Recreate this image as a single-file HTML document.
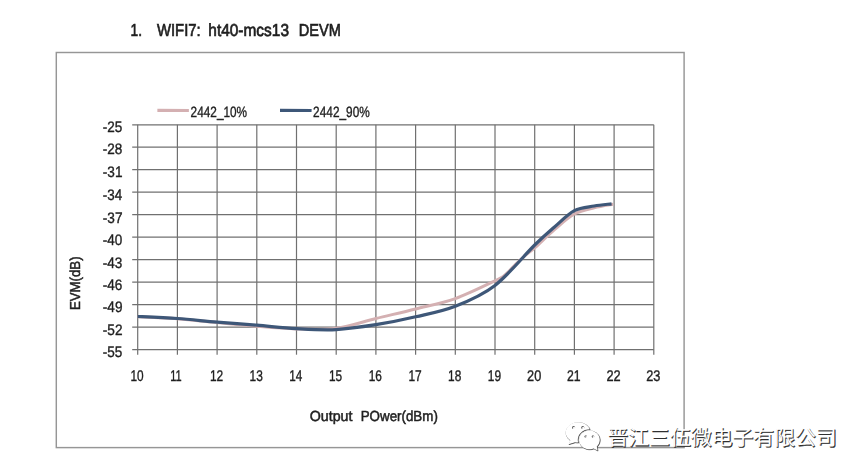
<!DOCTYPE html>
<html>
<head>
<meta charset="utf-8">
<title>WIFI7 ht40-mcs13 DEVM</title>
<style>
html,body{margin:0;padding:0;background:#fff;}
body{width:865px;height:475px;overflow:hidden;font-family:"Liberation Sans",sans-serif;}
svg{display:block;}
text{font-family:"Liberation Sans",sans-serif;font-size:20px;fill:#1f1f1f;stroke:#1f1f1f;stroke-width:0.5px;text-rendering:geometricPrecision;}
.t{stroke-width:0.8px;}
.m{stroke-width:0.7px;}
.g line{stroke:#707070;stroke-width:1.2;}
</style>
</head>
<body>
<svg width="865" height="475" viewBox="0 0 865 475">
<rect x="0" y="0" width="865" height="475" fill="#ffffff"/>
<!-- frame -->
<rect x="56.3" y="52.5" width="627.8" height="395.1" fill="none" stroke="#969696" stroke-width="1.45"/>
<!-- grid -->
<g class="g">
<line x1="137.7" y1="124.8" x2="137.7" y2="354.7"/>
<line x1="177.4" y1="124.8" x2="177.4" y2="354.7"/>
<line x1="217.1" y1="124.8" x2="217.1" y2="354.7"/>
<line x1="256.8" y1="124.8" x2="256.8" y2="354.7"/>
<line x1="296.5" y1="124.8" x2="296.5" y2="354.7"/>
<line x1="336.2" y1="124.8" x2="336.2" y2="354.7"/>
<line x1="375.9" y1="124.8" x2="375.9" y2="354.7"/>
<line x1="415.6" y1="124.8" x2="415.6" y2="354.7"/>
<line x1="455.3" y1="124.8" x2="455.3" y2="354.7"/>
<line x1="495.0" y1="124.8" x2="495.0" y2="354.7"/>
<line x1="534.7" y1="124.8" x2="534.7" y2="354.7"/>
<line x1="574.4" y1="124.8" x2="574.4" y2="354.7"/>
<line x1="614.1" y1="124.8" x2="614.1" y2="354.7"/>
<line x1="653.8" y1="124.8" x2="653.8" y2="354.7"/>
<line x1="132.2" y1="124.8" x2="653.8" y2="124.8"/>
<line x1="132.2" y1="147.2" x2="653.8" y2="147.2"/>
<line x1="132.2" y1="169.7" x2="653.8" y2="169.7"/>
<line x1="132.2" y1="192.2" x2="653.8" y2="192.2"/>
<line x1="132.2" y1="214.7" x2="653.8" y2="214.7"/>
<line x1="132.2" y1="237.2" x2="653.8" y2="237.2"/>
<line x1="132.2" y1="259.7" x2="653.8" y2="259.7"/>
<line x1="132.2" y1="282.2" x2="653.8" y2="282.2"/>
<line x1="132.2" y1="304.7" x2="653.8" y2="304.7"/>
<line x1="132.2" y1="327.2" x2="653.8" y2="327.2"/>
<line x1="132.2" y1="349.7" x2="653.8" y2="349.7"/>
</g>
<!-- legend -->
<line x1="157.4" y1="110.4" x2="188.9" y2="110.5" stroke="#d4b0b2" stroke-width="3.2"/>
<line x1="280.0" y1="110.4" x2="311.6" y2="110.5" stroke="#3e5778" stroke-width="3.2"/>
<!-- curves -->
<path d="M137.7 316.7 C144.3 317.0 164.2 317.7 177.4 318.7 C190.6 319.7 203.9 321.3 217.1 322.6 C230.3 323.9 243.6 325.2 256.8 326.3 C270.0 327.4 283.3 328.6 296.5 328.9 C309.7 329.2 323.0 330.0 336.2 328.3 C349.4 326.6 362.7 321.7 375.9 318.5 C389.1 315.3 402.4 312.3 415.6 309.0 C428.8 305.7 442.1 303.3 455.3 298.6 C468.5 293.9 486.7 284.7 495.0 280.8 C503.3 276.9 501.7 277.6 505.0 275.0 C508.3 272.4 511.7 268.2 515.0 265.0 C518.3 261.8 521.7 258.5 525.0 255.6 C528.3 252.7 529.8 252.1 534.7 247.8 C539.6 243.5 547.9 235.2 554.5 229.6 C561.1 224.0 567.8 217.6 574.4 214.0 C581.0 210.4 587.7 209.4 594.2 207.8 C600.7 206.2 610.0 204.8 613.2 204.2" fill="none" stroke="#d4b0b2" stroke-width="3" stroke-linejoin="round"/>
<path d="M137.7 316.5 C144.3 316.8 164.2 317.6 177.4 318.5 C190.6 319.4 203.9 321.1 217.1 322.2 C230.3 323.3 243.6 324.1 256.8 325.2 C270.0 326.3 283.3 328.0 296.5 328.7 C309.7 329.4 323.0 330.3 336.2 329.6 C349.4 328.9 362.7 326.8 375.9 324.7 C389.1 322.6 402.4 319.9 415.6 316.8 C428.8 313.7 442.1 311.4 455.3 306.2 C468.5 301.0 481.8 295.6 495.0 285.4 C508.2 275.2 524.8 254.7 534.7 245.0 C544.6 235.3 547.9 232.7 554.5 227.0 C561.1 221.3 567.8 214.2 574.4 210.7 C581.0 207.2 588.0 207.2 594.2 206.0 C600.4 204.8 608.7 204.2 611.6 203.8" fill="none" stroke="#3e5778" stroke-width="3.2" stroke-linejoin="round"/>
<!-- all text -->
<g class="a" opacity="0.999">
<text transform="translate(130.55 35.50) scale(0.6902 0.8659)" class="t">1.</text>
<text transform="translate(156.93 35.50) scale(0.7442 0.8659)" class="t">WIFI7:</text>
<text transform="translate(208.33 35.50) scale(0.7718 0.8659)" class="t">ht40-mcs13</text>
<text transform="translate(298.80 35.50) scale(0.7284 0.8659)" class="t">DEVM</text>
<text transform="translate(190.61 117.30) scale(0.5909 0.7472)">2442_10%</text>
<text transform="translate(313.10 117.30) scale(0.5930 0.7472)">2442_90%</text>
<text transform="translate(102.80 131.55) scale(0.6770 0.7612)">-25</text>
<text transform="translate(102.80 154.25) scale(0.6778 0.7612)">-28</text>
<text transform="translate(102.80 177.34) scale(0.6804 0.7612)">-31</text>
<text transform="translate(102.80 200.34) scale(0.6708 0.7612)">-34</text>
<text transform="translate(102.79 222.73) scale(0.6812 0.7612)">-37</text>
<text transform="translate(102.80 244.82) scale(0.6756 0.7612)">-40</text>
<text transform="translate(102.80 267.62) scale(0.6780 0.7612)">-43</text>
<text transform="translate(102.80 289.52) scale(0.6780 0.7612)">-46</text>
<text transform="translate(102.80 312.21) scale(0.6797 0.7612)">-49</text>
<text transform="translate(102.79 334.75) scale(0.6812 0.7612)">-52</text>
<text transform="translate(102.80 357.25) scale(0.6770 0.7612)">-55</text>
<text transform="translate(130.50 380.60) scale(0.5917 0.7751)">10</text>
<text transform="translate(170.16 380.60) scale(0.5520 0.7751)">11</text>
<text transform="translate(209.89 380.60) scale(0.5985 0.7751)">12</text>
<text transform="translate(249.59 380.60) scale(0.5946 0.7751)">13</text>
<text transform="translate(289.31 380.60) scale(0.5860 0.7751)">14</text>
<text transform="translate(329.00 380.60) scale(0.5935 0.7751)">15</text>
<text transform="translate(368.69 380.60) scale(0.5946 0.7751)">16</text>
<text transform="translate(408.39 380.60) scale(0.5985 0.7751)">17</text>
<text transform="translate(448.09 380.60) scale(0.5944 0.7751)">18</text>
<text transform="translate(487.79 380.60) scale(0.5967 0.7751)">19</text>
<text transform="translate(527.06 380.60) scale(0.6354 0.7751)">20</text>
<text transform="translate(566.88 380.60) scale(0.6119 0.7751)">21</text>
<text transform="translate(606.45 380.60) scale(0.6425 0.7751)">22</text>
<text transform="translate(646.16 380.60) scale(0.6385 0.7751)">23</text>
<text transform="translate(309.73 421.30) scale(0.7108 0.7263)" class="m">Output</text>
<text transform="translate(360.71 421.30) scale(0.6673 0.7263)" class="m">POwer(dBm)</text>
<text transform="translate(79.80 309.00) rotate(-90) translate(-1.09 0) scale(0.6620 0.7193)" class="m">EVM(dB)</text>
</g>
<!-- watermark -->
<g>
<title>晋江三伍微电子有限公司</title>
<g transform="translate(0.45 0.45)" fill="#3a3a3a" stroke="#3a3a3a" stroke-width="0.55" stroke-linejoin="round" fill-rule="evenodd">
<path d="M587.8 426.2 L586.7 425.2 L585.5 424.3 L584.1 423.6 L582.7 423.0 L581.2 422.5 L579.6 422.3 L578.0 422.2 L576.4 422.3 L574.8 422.5 L573.3 423.0 L571.8 423.6 L570.5 424.3 L569.3 425.2 L568.2 426.2 L567.3 427.3 L566.6 428.5 L566.1 429.8 L565.8 431.1 L565.7 432.4 L565.8 433.7 L566.1 435.0 L566.6 436.3 L567.3 437.5 L568.2 438.6 L569.3 439.6 L570.3 440.3 L568.6 444.2 L575.1 442.3 L576.4 442.5 L578.0 442.6 L578.2 442.6 L577.9 441.3 L577.8 439.9 L577.9 438.5 L578.2 437.2 L578.7 435.8 L579.4 434.6 L580.2 433.4 L581.2 432.4 L582.3 431.5 L583.6 430.7 L585.0 430.1 L586.4 429.7 L587.9 429.4 L589.4 429.3 L589.7 429.3 L589.4 428.5 L588.7 427.3Z M574.7 428.7 L574.2 429.0 L573.6 429.1 L573.0 429.0 L572.5 428.7 L572.2 428.2 L572.1 427.6 L572.2 427.0 L572.5 426.5 L573.0 426.2 L573.6 426.1 L574.2 426.2 L574.7 426.5 L575.0 427.0 L575.1 427.6 L575.0 428.2Z M584.2 428.2 L583.9 428.7 L583.4 429.0 L582.8 429.1 L582.2 429.0 L581.7 428.7 L581.4 428.2 L581.3 427.6 L581.4 427.0 L581.7 426.5 L582.2 426.2 L582.8 426.1 L583.4 426.2 L583.9 426.5 L584.2 427.0 L584.3 427.6Z"/>
<path d="M599.0 436.3 L598.4 435.2 L597.7 434.2 L596.8 433.3 L595.7 432.4 L594.6 431.8 L593.4 431.2 L592.1 430.8 L590.8 430.6 L589.4 430.5 L588.0 430.6 L586.7 430.8 L585.4 431.2 L584.2 431.8 L583.1 432.4 L582.0 433.3 L581.1 434.2 L580.4 435.2 L579.8 436.3 L579.4 437.5 L579.1 438.7 L579.0 439.9 L579.1 441.1 L579.4 442.3 L579.8 443.5 L580.4 444.6 L581.1 445.6 L582.0 446.5 L583.1 447.4 L584.2 448.0 L585.4 448.6 L586.7 449.0 L588.0 449.2 L589.4 449.3 L590.8 449.2 L592.1 449.0 L593.4 448.6 L593.6 448.5 L597.6 450.6 L596.8 446.5 L597.7 445.6 L598.4 444.6 L599.0 443.5 L599.4 442.3 L599.7 441.1 L599.8 439.9 L599.7 438.7 L599.4 437.5Z M586.7 437.5 L586.3 437.8 L585.8 437.9 L585.3 437.8 L584.9 437.5 L584.6 437.1 L584.5 436.6 L584.6 436.1 L584.9 435.7 L585.3 435.4 L585.8 435.4 L586.3 435.4 L586.7 435.7 L587.0 436.1 L587.0 436.6 L587.0 437.1Z M594.2 437.1 L593.9 437.5 L593.5 437.8 L593.0 437.9 L592.5 437.8 L592.1 437.5 L591.8 437.1 L591.8 436.6 L591.8 436.1 L592.1 435.7 L592.5 435.4 L593.0 435.4 L593.5 435.4 L593.9 435.7 L594.2 436.1 L594.2 436.6Z"/>
</g>
<g transform="translate(0.8 0.8)">
<text x="607.4" y="445.3" style="font-family:'Liberation Sans','Noto Sans CJK SC',sans-serif;font-size:20.85px;fill:#303030;stroke:#303030;stroke-width:0.4px;">晋江三伍微电子有限公司</text>
</g>
<g fill="#ffffff" fill-rule="evenodd">
<path d="M587.8 426.2 L586.7 425.2 L585.5 424.3 L584.1 423.6 L582.7 423.0 L581.2 422.5 L579.6 422.3 L578.0 422.2 L576.4 422.3 L574.8 422.5 L573.3 423.0 L571.8 423.6 L570.5 424.3 L569.3 425.2 L568.2 426.2 L567.3 427.3 L566.6 428.5 L566.1 429.8 L565.8 431.1 L565.7 432.4 L565.8 433.7 L566.1 435.0 L566.6 436.3 L567.3 437.5 L568.2 438.6 L569.3 439.6 L570.3 440.3 L568.6 444.2 L575.1 442.3 L576.4 442.5 L578.0 442.6 L578.2 442.6 L577.9 441.3 L577.8 439.9 L577.9 438.5 L578.2 437.2 L578.7 435.8 L579.4 434.6 L580.2 433.4 L581.2 432.4 L582.3 431.5 L583.6 430.7 L585.0 430.1 L586.4 429.7 L587.9 429.4 L589.4 429.3 L589.7 429.3 L589.4 428.5 L588.7 427.3Z M574.7 428.7 L574.2 429.0 L573.6 429.1 L573.0 429.0 L572.5 428.7 L572.2 428.2 L572.1 427.6 L572.2 427.0 L572.5 426.5 L573.0 426.2 L573.6 426.1 L574.2 426.2 L574.7 426.5 L575.0 427.0 L575.1 427.6 L575.0 428.2Z M584.2 428.2 L583.9 428.7 L583.4 429.0 L582.8 429.1 L582.2 429.0 L581.7 428.7 L581.4 428.2 L581.3 427.6 L581.4 427.0 L581.7 426.5 L582.2 426.2 L582.8 426.1 L583.4 426.2 L583.9 426.5 L584.2 427.0 L584.3 427.6Z"/>
<path d="M599.0 436.3 L598.4 435.2 L597.7 434.2 L596.8 433.3 L595.7 432.4 L594.6 431.8 L593.4 431.2 L592.1 430.8 L590.8 430.6 L589.4 430.5 L588.0 430.6 L586.7 430.8 L585.4 431.2 L584.2 431.8 L583.1 432.4 L582.0 433.3 L581.1 434.2 L580.4 435.2 L579.8 436.3 L579.4 437.5 L579.1 438.7 L579.0 439.9 L579.1 441.1 L579.4 442.3 L579.8 443.5 L580.4 444.6 L581.1 445.6 L582.0 446.5 L583.1 447.4 L584.2 448.0 L585.4 448.6 L586.7 449.0 L588.0 449.2 L589.4 449.3 L590.8 449.2 L592.1 449.0 L593.4 448.6 L593.6 448.5 L597.6 450.6 L596.8 446.5 L597.7 445.6 L598.4 444.6 L599.0 443.5 L599.4 442.3 L599.7 441.1 L599.8 439.9 L599.7 438.7 L599.4 437.5Z M586.7 437.5 L586.3 437.8 L585.8 437.9 L585.3 437.8 L584.9 437.5 L584.6 437.1 L584.5 436.6 L584.6 436.1 L584.9 435.7 L585.3 435.4 L585.8 435.4 L586.3 435.4 L586.7 435.7 L587.0 436.1 L587.0 436.6 L587.0 437.1Z M594.2 437.1 L593.9 437.5 L593.5 437.8 L593.0 437.9 L592.5 437.8 L592.1 437.5 L591.8 437.1 L591.8 436.6 L591.8 436.1 L592.1 435.7 L592.5 435.4 L593.0 435.4 L593.5 435.4 L593.9 435.7 L594.2 436.1 L594.2 436.6Z"/>
<text x="607.4" y="445.3" style="font-family:'Liberation Sans','Noto Sans CJK SC',sans-serif;font-size:20.85px;fill:#ffffff;stroke:none;">晋江三伍微电子有限公司</text>
</g>
</g>
</svg>
</body>
</html>
